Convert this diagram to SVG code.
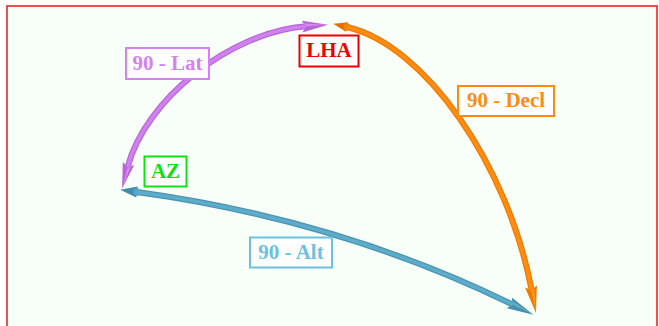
<svg xmlns="http://www.w3.org/2000/svg" width="659" height="326" viewBox="0 0 659 326">
<style>
.lbl{font-family:"Liberation Serif","Times New Roman",serif;font-weight:bold;font-size:21px;text-anchor:middle}
.box{fill:#ffffff;stroke-width:2}
.arc{fill:none;stroke-width:6;stroke-linecap:butt}
.hi{fill:none;stroke-width:3.6;stroke-linecap:butt}
</style>
<defs>
<marker id="hPur" viewBox="0 0 28 12" refX="4" refY="6" markerWidth="28" markerHeight="12" markerUnits="userSpaceOnUse" orient="auto-start-reverse">
<path d="M0,0 L26,6 L0,12 L4,6 Z" fill="#b865d8"/>
<path d="M2,3 L24,6 L5,6 Z" fill="#d48cf0"/>
</marker>
<marker id="hOra" viewBox="0 0 28 12" refX="4" refY="6" markerWidth="28" markerHeight="12" markerUnits="userSpaceOnUse" orient="auto">
<path d="M0,0 L27,6 L0,12 L4,6 Z" fill="#ee7a00"/>
<path d="M2,3 L25,6 L5,6 Z" fill="#ff9a20"/>
</marker>
<marker id="sOra" viewBox="0 0 20 12" refX="4" refY="6" markerWidth="20" markerHeight="12" markerUnits="userSpaceOnUse" orient="auto-start-reverse">
<path d="M4,1 L18,6 L4,11 Z" fill="#e27000"/>
<circle cx="4" cy="6" r="3.6" fill="#f48400"/>
</marker>
<marker id="hBlu" viewBox="0 0 28 12" refX="4" refY="6" markerWidth="28" markerHeight="12" markerUnits="userSpaceOnUse" orient="auto">
<path d="M0,0 L27,6 L0,12 L4,6 Z" fill="#4590ae"/>
<path d="M2,3 L25,6 L5,6 Z" fill="#62b0cc"/>
</marker>
<marker id="sBlu" viewBox="0 0 22 12" refX="4" refY="6" markerWidth="22" markerHeight="12" markerUnits="userSpaceOnUse" orient="auto-start-reverse">
<path d="M4,0.5 L21,6 L4,11.5 Z" fill="#428cab"/>
<circle cx="4" cy="6" r="3.8" fill="#55a4c2"/>
</marker>
</defs>
<rect x="0" y="0" width="659" height="326" fill="#ffffff"/>
<rect x="7" y="6" width="650" height="330" fill="#f8fff8" stroke="#ee2222" stroke-width="1.6"/>
<g id="connectors">
<path class="arc" d="M306,26.3 C230,32 145,100 127.6,167.2" stroke="#b865d8" marker-start="url(#hPur)" marker-end="url(#hPur)"/>
<path class="hi" d="M306,26.3 C230,32 145,100 127.6,167.2" stroke="#cf82ee"/>
<path class="arc" d="M347,27 C425,45 508,165 531.7,290.4" stroke="#ee7a00" marker-start="url(#sOra)" marker-end="url(#hOra)"/>
<path class="hi" d="M347,27 C425,45 508,165 531.7,290.4" stroke="#ff8c10"/>
<path class="arc" d="M137,192 Q340,220 512.7,304.6" stroke="#4893b2" marker-start="url(#sBlu)" marker-end="url(#hBlu)"/>
<path class="hi" d="M137,192 Q340,220 512.7,304.6" stroke="#5cacca"/>
</g>
<g id="label-lat">
<rect class="box" x="126" y="48" width="83" height="31" stroke="#d580f5"/>
<text class="lbl" x="167.5" y="70" fill="#d580f5">90 - Lat</text>
</g>
<g id="label-lha">
<rect class="box" x="299.5" y="35.5" width="59" height="31" stroke="#ee0000"/>
<text class="lbl" x="329" y="57" fill="#ee0000">LHA</text>
</g>
<g id="label-decl">
<rect class="box" x="458" y="86" width="96" height="30" stroke="#ff8c10"/>
<text class="lbl" x="506" y="107" fill="#ff8c10">90 - Decl</text>
</g>
<g id="label-az">
<rect class="box" x="144.5" y="156.5" width="42" height="30" stroke="#10e010"/>
<text class="lbl" x="165.5" y="178" fill="#10e010">AZ</text>
</g>
<g id="label-alt">
<rect class="box" x="250" y="237.5" width="82" height="30" stroke="#6cc0e0"/>
<text class="lbl" x="291" y="259" fill="#6cc0e0">90 - Alt</text>
</g>
</svg>
